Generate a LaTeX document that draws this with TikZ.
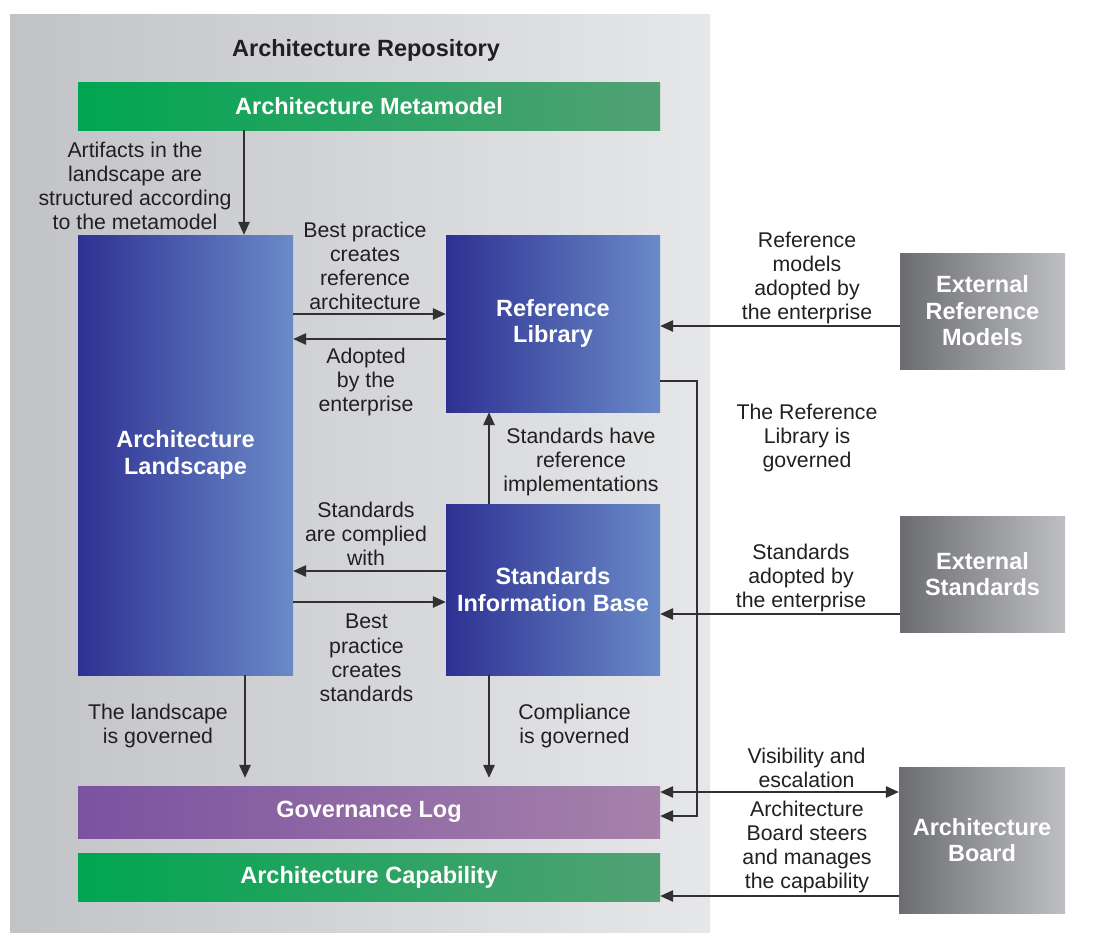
\documentclass[tikz,border=0pt]{standalone}
\usepackage{fontspec}
\setmainfont{Liberation Sans}
\usetikzlibrary{arrows.meta}
\definecolor{txt}{RGB}{35,31,32}
\definecolor{ln}{RGB}{50,48,50}
\definecolor{bg1}{RGB}{194,195,199}
\definecolor{bg2}{RGB}{230,231,233}
\definecolor{gr1}{RGB}{0,166,81}
\definecolor{gr2}{RGB}{82,161,116}
\definecolor{bl1}{RGB}{46,49,146}
\definecolor{bl2}{RGB}{106,138,200}
\definecolor{pu1}{RGB}{123,82,160}
\definecolor{pu2}{RGB}{166,130,170}
\definecolor{ex1}{RGB}{108,109,113}
\definecolor{ex2}{RGB}{190,191,194}
\newcommand\mylabfont{\fontsize{21.3}{24.2}\selectfont}
\newcommand\myboldfont{\fontsize{23.5}{26.5}\selectfont\bfseries}
\begin{document}
\begin{tikzpicture}[x=1pt,y=-1pt,
  box/.style={draw=none, inner sep=0pt, align=center, text=white, font=\myboldfont},
  lbl/.style={inner sep=0pt, align=center, text=txt, font=\mylabfont, yshift=-2pt},
  arr/.style={draw=ln, line width=1.4pt, -{Triangle[length=13pt,width=11.5pt]}},
  darr/.style={draw=ln, line width=1.4pt, {Triangle[length=13pt,width=11.5pt]}-{Triangle[length=13pt,width=11.5pt]}}]
\useasboundingbox (0,0) rectangle (1110,943);
% background repository
\node[draw=none, inner sep=0pt, minimum width=700pt, minimum height=918pt, left color=bg1, right color=bg2] (repo) at (360,473) {};
\node[lbl, font=\myboldfont] (repotitle) at (366,48) {Architecture Repository};
% boxes
\node[box, minimum width=582pt, minimum height=48pt, left color=gr1, right color=gr2] (meta) at (369,106) {Architecture Metamodel};
\node[box, minimum width=215pt, minimum height=440pt, left color=bl1, right color=bl2] (land) at (185.5,455) {Architecture\\Landscape};
\node[box, minimum width=214pt, minimum height=177pt, left color=bl1, right color=bl2] (ref) at (553,323.5) {Reference\\Library};
\node[box, minimum width=214pt, minimum height=171pt, left color=bl1, right color=bl2] (sib) at (553,589.5) {Standards\\Information Base};
\node[box, minimum width=582pt, minimum height=52pt, left color=pu1, right color=pu2] (gov) at (369,812) {Governance Log};
\node[box, minimum width=582pt, minimum height=48pt, left color=gr1, right color=gr2] (cap) at (369,877) {Architecture Capability};
\node[box, minimum width=165pt, minimum height=116pt, left color=ex1, right color=ex2] (extref) at (982.5,311) {External\\Reference\\Models};
\node[box, minimum width=165pt, minimum height=116pt, left color=ex1, right color=ex2] (extstd) at (982.5,574) {External\\Standards};
\node[box, minimum width=166pt, minimum height=146pt, left color=ex1, right color=ex2] (board) at (982,840) {Architecture\\Board};
% helper coordinates
\coordinate (xa) at (244,0);
\coordinate (xb) at (245,0);
\coordinate (xc) at (489,0);
\coordinate (y314) at (0,314);
\coordinate (y339) at (0,339);
\coordinate (y571) at (0,571);
\coordinate (y602) at (0,602);
\coordinate (y326) at (0,326);
\coordinate (y614) at (0,614);
\coordinate (y792) at (0,792);
\coordinate (y896) at (0,896);
\coordinate (k1) at (697,381);
\coordinate (k2) at (697,816);
% connectors
\draw[arr] (meta.south -| xa) -- (land.north -| xa);
\draw[arr] (land.east |- y314) -- (ref.west |- y314);
\draw[arr] (ref.west |- y339) -- (land.east |- y339);
\draw[arr] (sib.north -| xc) -- (ref.south -| xc);
\draw[arr] (sib.west |- y571) -- (land.east |- y571);
\draw[arr] (land.east |- y602) -- (sib.west |- y602);
\draw[arr, shorten >=8pt] (land.south -| xb) -- (gov.north -| xb);
\draw[arr, shorten >=8pt] (sib.south -| xc) -- (gov.north -| xc);
\draw[arr] (extref.west |- y326) -- (ref.east |- y326);
\draw[arr] (extstd.west |- y614) -- (sib.east |- y614);
\draw[arr] (ref.east |- k1) -- (k1) -- (k2) -- (gov.east |- k2);
\draw[darr] (gov.east |- y792) -- (board.west |- y792);
\draw[arr] (board.west |- y896) -- (cap.east |- y896);
% labels
\node[lbl] (l1) at (135,184) {Artifacts in the\\landscape are\\structured according\\to the metamodel};
\node[lbl] (l2) at (365,264) {Best practice\\creates\\reference\\architecture};
\node[lbl] (l3) at (366,380) {Adopted\\by the\\enterprise};
\node[lbl] (l4) at (581,460) {Standards have\\reference\\implementations};
\node[lbl] (l5) at (366,532) {Standards\\are complied\\with};
\node[lbl] (l6) at (366.5,656) {Best\\practice\\creates\\standards};
\node[lbl] (l7) at (158,724) {The landscape\\is governed};
\node[lbl] (l8) at (574.5,724) {Compliance\\is governed};
\node[lbl] (l9) at (807,276) {Reference\\models\\adopted by\\the enterprise};
\node[lbl] (l10) at (807,436) {The Reference\\Library is\\governed};
\node[lbl] (l11) at (801,576) {Standards\\adopted by\\the enterprise};
\node[lbl] (l12) at (806.5,766) {Visibility and\\escalation};
\node[lbl] (l13) at (807,845) {Architecture\\Board steers\\and manages\\the capability};
\end{tikzpicture}
\end{document}
